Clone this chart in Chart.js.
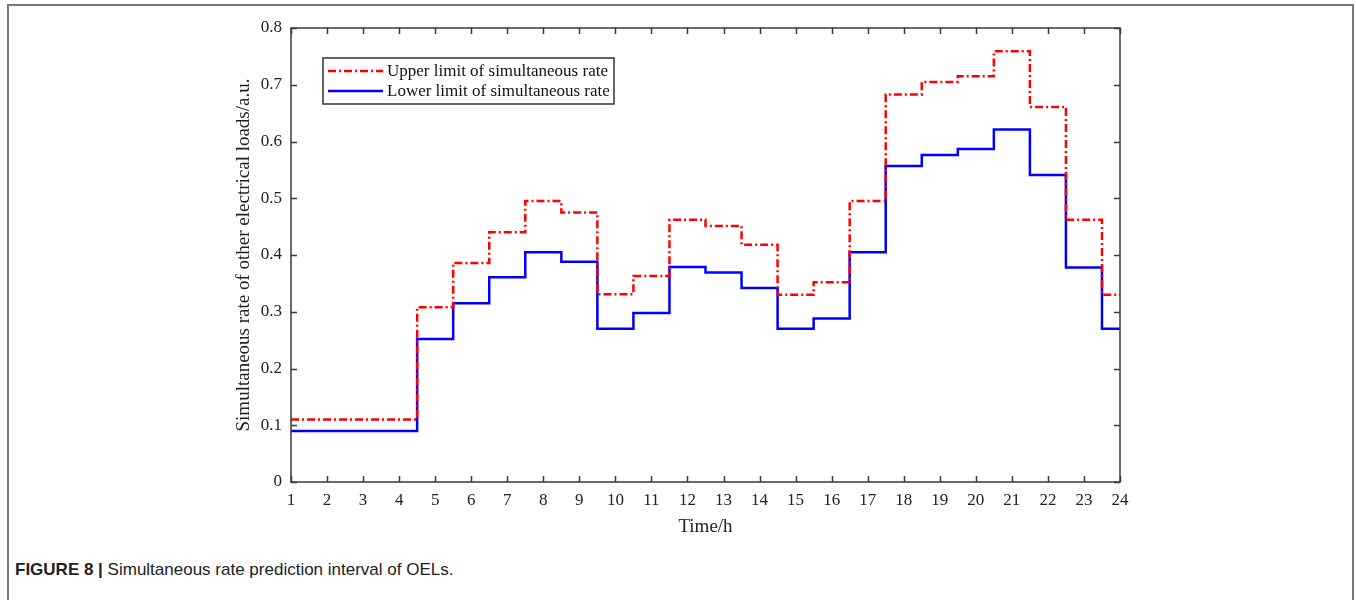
<!DOCTYPE html>
<html lang="en">
<head>
<meta charset="UTF-8" />
<title>Simultaneous rate prediction interval of OELs</title>
<style>
  body { margin: 0; background: #fff; }
  .figura { position: relative; width: 1356px; height: 600px; overflow: hidden; }
  .moldura {
    position: absolute; left: 7px; top: 4px; width: 1347px; height: 600px;
    border: 2px solid #777; border-bottom: none; box-sizing: border-box;
  }
  .grafico { position: absolute; left: 0; top: 0; width: 1356px; height: 540px; }
  .legenda-fig {
    position: absolute; left: 15px; top: 560px;
    font-family: "Liberation Sans", Arial, sans-serif; font-size: 17px; color: #222;
  }
  .legenda-fig b { font-weight: bold; }
</style>
</head>
<body>
  <div class="figura">
    <div class="moldura"></div>
    <div class="grafico"><canvas id="myChart"></canvas></div>
    <div class="legenda-fig"><b>FIGURE 8 |</b> Simultaneous rate prediction interval of OELs.</div>
  </div>

<script src="https://cdn.jsdelivr.net/npm/chart.js"></script>
<script>
  // dados
  const horas = [1, 2, 3, 4, 5, 6, 7, 8, 9, 10, 11, 12, 13, 14, 15, 16, 17, 18, 19, 20, 21, 22, 23, 24];
  const limiteSuperior = [0.11, 0.11, 0.11, 0.11, 0.308, 0.386, 0.44, 0.495, 0.475, 0.331, 0.363, 0.462,
                          0.451, 0.418, 0.33, 0.352, 0.495, 0.683, 0.705, 0.715, 0.759, 0.661, 0.462, 0.33];
  const limiteInferior = [0.09, 0.09, 0.09, 0.09, 0.252, 0.315, 0.361, 0.405, 0.388, 0.27, 0.298, 0.379,
                          0.369, 0.342, 0.27, 0.288, 0.405, 0.557, 0.576, 0.587, 0.621, 0.541, 0.378, 0.27];
  const ticksY = [0, 0.1, 0.2, 0.3, 0.4, 0.5, 0.6, 0.7, 0.8];
  const nomeSuperior = "Upper limit of simultaneous rate";
  const nomeInferior = "Lower limit of simultaneous rate";

  const serif = "'Liberation Serif', 'Times New Roman', serif";

  // caixa do eixo com ticks para dentro + legenda dentro do grafico
  const molduraEixos = {
    id: 'molduraEixos',
    afterDatasetsDraw(chart) {
      const { ctx, chartArea: a, scales: { x, y } } = chart;
      ctx.save();
      ctx.strokeStyle = '#3a3a3a';
      ctx.lineWidth = 1.5;
      ctx.strokeRect(a.left, a.top, a.right - a.left, a.bottom - a.top);
      ctx.beginPath();
      horas.forEach(h => {
        const px = Math.round(x.getPixelForValue(h)) + 0.5;
        ctx.moveTo(px, a.bottom); ctx.lineTo(px, a.bottom - 6);
        ctx.moveTo(px, a.top); ctx.lineTo(px, a.top + 6);
      });
      ticksY.forEach(v => {
        const py = Math.round(y.getPixelForValue(v)) + 0.5;
        ctx.moveTo(a.left, py); ctx.lineTo(a.left + 6, py);
        ctx.moveTo(a.right, py); ctx.lineTo(a.right - 6, py);
      });
      ctx.stroke();

      // legenda
      const bx = a.left + 32, by = a.top + 30, bw = 291, bh = 46;
      ctx.fillStyle = '#fff';
      ctx.fillRect(bx, by, bw, bh);
      ctx.strokeStyle = '#333';
      ctx.lineWidth = 1.5;
      ctx.strokeRect(bx, by, bw, bh);
      ctx.font = '17px ' + serif;
      ctx.textBaseline = 'middle';
      chart.data.datasets.forEach((ds, i) => {
        const ly = by + 13 + i * 20;
        ctx.beginPath();
        ctx.strokeStyle = ds.borderColor;
        ctx.lineWidth = ds.borderWidth;
        ctx.setLineDash(ds.borderDash || []);
        ctx.moveTo(bx + 5, ly);
        ctx.lineTo(bx + 60, ly);
        ctx.stroke();
        ctx.setLineDash([]);
        ctx.fillStyle = '#111';
        ctx.fillText(ds.label, bx + 64, ly + 1);
      });
      ctx.restore();
    }
  };

  const data = {
    datasets: [
      {
        label: nomeSuperior,
        data: horas.map((h, i) => ({ x: h, y: limiteSuperior[i] })),
        borderColor: '#ff0000',
        borderWidth: 2.5,
        borderDash: [8, 3, 2, 3],
        stepped: 'middle',
        pointRadius: 0,
        fill: false
      },
      {
        label: nomeInferior,
        data: horas.map((h, i) => ({ x: h, y: limiteInferior[i] })),
        borderColor: '#0000ff',
        borderWidth: 2.5,
        stepped: 'middle',
        pointRadius: 0,
        fill: false
      }
    ]
  };

  const config = {
    type: 'line',
    data,
    plugins: [molduraEixos],
    options: {
      responsive: true,
      maintainAspectRatio: false,
      animation: false,
      layout: { padding: { left: 220, top: 28, right: 236, bottom: 0 } },
      plugins: { legend: { display: false }, tooltip: { enabled: false } },
      scales: {
        x: {
          type: 'linear',
          min: 1,
          max: 24,
          afterBuildTicks: s => { s.ticks = horas.map(v => ({ value: v })); },
          afterFit: s => { s.height = 58; },
          grid: { display: false, drawTicks: false },
          border: { display: false },
          ticks: { color: '#222', padding: 8, font: { family: serif, size: 17 } },
          title: { display: true, text: 'Time/h', color: '#222', padding: { top: 0, bottom: 2 }, font: { family: serif, size: 19 } }
        },
        y: {
          min: 0,
          max: 0.8,
          afterBuildTicks: s => { s.ticks = ticksY.map(v => ({ value: v })); },
          afterFit: s => { s.width = 71; },
          grid: { display: false, drawTicks: false },
          border: { display: false },
          ticks: { color: '#222', padding: 9, font: { family: serif, size: 17 } },
          title: { display: true, text: 'Simultaneous rate of other electrical loads/a.u.', color: '#222', padding: { top: 13, bottom: 0 }, font: { family: serif, size: 19 } }
        }
      }
    }
  };

  var myChart = new Chart(document.getElementById('myChart'), config);
</script>
</body>
</html>
